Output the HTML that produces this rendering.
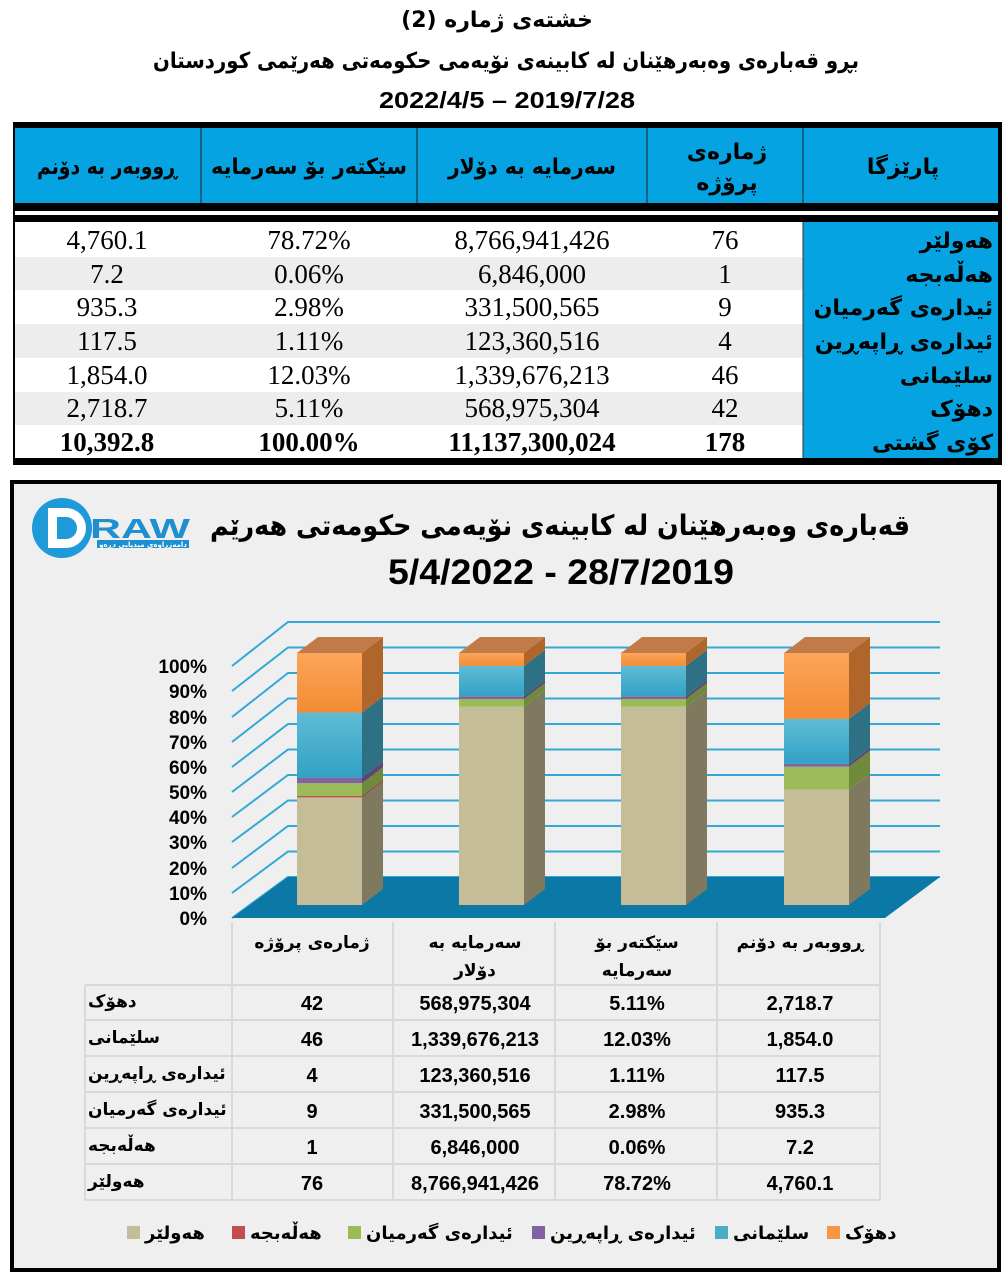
<!DOCTYPE html>
<html><head><meta charset="utf-8"><style>
html,body{margin:0;padding:0;background:#fff;}
svg{display:block;}
.ar{font-family:"DejaVu Sans",sans-serif;font-weight:bold;}
.sf{font-family:"Liberation Serif",serif;}
.sb{font-family:"Liberation Sans",sans-serif;font-weight:bold;}
</style></head><body>
<svg width="1007" height="1280" viewBox="0 0 1007 1280" xmlns="http://www.w3.org/2000/svg">
<defs>
<linearGradient id="gO" x1="0" y1="0" x2="0" y2="1"><stop offset="0" stop-color="#fca55a"/><stop offset="1" stop-color="#f38c33"/></linearGradient>
<linearGradient id="gB" x1="0" y1="0" x2="0" y2="1"><stop offset="0" stop-color="#5fbbd4"/><stop offset="1" stop-color="#32a2c6"/></linearGradient>
</defs>
<rect width="1007" height="1280" fill="#fff"/>
<text x="497" y="27" text-anchor="middle" class="ar" font-size="22">خشتەی ژمارە (2)</text>
<text x="506" y="68" text-anchor="middle" class="ar" font-size="22" textLength="706" lengthAdjust="spacingAndGlyphs">بڕو قەبارەی وەبەرهێنان لە کابینەی نۆیەمی حکومەتی هەرێمی کوردستان</text>
<text x="507" y="108" text-anchor="middle" class="sb" font-size="23" textLength="256" lengthAdjust="spacingAndGlyphs">2022/4/5 – 2019/7/28</text>
<rect x="13" y="122" width="989" height="343" fill="#000"/>
<rect x="15" y="128" width="983" height="75" fill="#05a3e1"/>
<rect x="15" y="211" width="983" height="4" fill="#fff"/>
<rect x="15" y="222" width="983" height="236" fill="#fff"/>
<rect x="15" y="257" width="788" height="33" fill="#ededed"/>
<rect x="15" y="324" width="788" height="34" fill="#ededed"/>
<rect x="15" y="392" width="788" height="33" fill="#ededed"/>
<rect x="803" y="222" width="195" height="236" fill="#05a3e1"/>
<line x1="803" y1="222" x2="803" y2="458" stroke="#333" stroke-width="1"/>
<g stroke="#222" stroke-width="1"><line x1="201" y1="128" x2="201" y2="203"/><line x1="417" y1="128" x2="417" y2="203"/><line x1="647" y1="128" x2="647" y2="203"/><line x1="803" y1="128" x2="803" y2="203"/></g>
<g class="ar" font-size="22" text-anchor="middle">
<text x="107" y="174" textLength="140" lengthAdjust="spacingAndGlyphs">ڕووبەر بە دۆنم</text>
<text x="309" y="174" textLength="196" lengthAdjust="spacingAndGlyphs">سێکتەر بۆ سەرمایە</text>
<text x="532" y="174" textLength="168" lengthAdjust="spacingAndGlyphs">سەرمایە بە دۆلار</text>
<text x="727" y="159">ژمارەی</text>
<text x="727" y="190">پرۆژە</text>
<text x="903" y="174">پارێزگا</text>
</g>
<g class="sf" font-size="27" text-anchor="middle">
<text x="107" y="249">4,760.1</text><text x="309" y="249">78.72%</text><text x="532" y="249">8,766,941,426</text><text x="725" y="249">76</text>
<text x="107" y="283">7.2</text><text x="309" y="283">0.06%</text><text x="532" y="283">6,846,000</text><text x="725" y="283">1</text>
<text x="107" y="316">935.3</text><text x="309" y="316">2.98%</text><text x="532" y="316">331,500,565</text><text x="725" y="316">9</text>
<text x="107" y="350">117.5</text><text x="309" y="350">1.11%</text><text x="532" y="350">123,360,516</text><text x="725" y="350">4</text>
<text x="107" y="384">1,854.0</text><text x="309" y="384">12.03%</text><text x="532" y="384">1,339,676,213</text><text x="725" y="384">46</text>
<text x="107" y="417">2,718.7</text><text x="309" y="417">5.11%</text><text x="532" y="417">568,975,304</text><text x="725" y="417">42</text>
<g font-weight="bold"><text x="107" y="451">10,392.8</text><text x="309" y="451">100.00%</text><text x="532" y="451">11,137,300,024</text><text x="725" y="451">178</text></g>
</g>
<g class="ar" font-size="22" text-anchor="end">
<text x="993" y="248">هەولێر</text>
<text x="993" y="282">هەڵەبجە</text>
<text x="993" y="315">ئیدارەی گەرمیان</text>
<text x="993" y="349">ئیدارەی ڕاپەڕین</text>
<text x="993" y="383">سلێمانی</text>
<text x="993" y="416">دهۆک</text>
<text x="993" y="450">کۆی گشتی</text>
</g>
<rect x="12" y="482" width="987" height="788" fill="#efefef" stroke="#000" stroke-width="4"/>
<circle cx="62" cy="528" r="30" fill="#1e9ad8"/>
<path d="M48 508 h18 a20 20 0 0 1 0 40 h-18 z" fill="#fff"/>
<path d="M57 517 h9 a11 11 0 0 1 0 22 h-9 z" fill="#1e9ad8"/>
<text x="90" y="538" font-family="Liberation Sans,sans-serif" font-weight="bold" font-size="28" fill="#1e8fd0" textLength="100" lengthAdjust="spacingAndGlyphs">RAW</text>
<rect x="97" y="540" width="92" height="8" fill="#1e8fd0"/>
<text x="143" y="547" text-anchor="middle" class="ar" font-size="7" fill="#fff">دامەزراوەی میدیایی دڕەو</text>
<text x="560" y="535" text-anchor="middle" class="ar" font-size="28" textLength="700" lengthAdjust="spacingAndGlyphs">قەبارەی وەبەرهێنان لە کابینەی نۆیەمی حکومەتی هەرێم</text>
<text x="561" y="584" text-anchor="middle" class="sb" font-size="35" textLength="346" lengthAdjust="spacingAndGlyphs">5/4/2022 - 28/7/2019</text>
<g stroke="#33a8d6" stroke-width="2" fill="none">
<polyline points="232,918 288,877 940,877"/><polyline points="232,893 288,851.5 940,851.5"/><polyline points="232,868 288,826 940,826"/><polyline points="232,842 288,800.5 940,800.5"/><polyline points="232,817 288,775 940,775"/><polyline points="232,792 288,749.5 940,749.5"/><polyline points="232,767 288,724 940,724"/><polyline points="232,742 288,698.5 940,698.5"/><polyline points="232,717 288,673 940,673"/><polyline points="232,691 288,647.5 940,647.5"/><polyline points="232,666 288,622 940,622"/>
</g>
<polygon points="232,918 288,877 940,877 885,918" fill="#0b78a5"/>
<g class="sb" font-size="19" text-anchor="end">
<text x="207" y="925">0%</text><text x="207" y="900">10%</text><text x="207" y="875">20%</text><text x="207" y="849">30%</text><text x="207" y="824">40%</text><text x="207" y="799">50%</text><text x="207" y="774">60%</text><text x="207" y="749">70%</text><text x="207" y="724">80%</text><text x="207" y="698">90%</text><text x="207" y="673">100%</text>
</g>
<g transform="translate(297,0)">
<rect x="0" y="797.4" width="65" height="107.6" fill="#c4bd97"/><polygon points="65,797.4 86,781.4 86,889 65,905" fill="#7f7a5f"/>
<rect x="0" y="796" width="65" height="1.4" fill="#c0504d"/><polygon points="65,796 86,780 86,781.4 65,797.4" fill="#8a3a38"/>
<rect x="0" y="783.2" width="65" height="12.8" fill="#9bbb59"/><polygon points="65,783.2 86,767.2 86,780 65,796" fill="#6f8a3c"/>
<rect x="0" y="777.6" width="65" height="5.6" fill="#8064a2"/><polygon points="65,777.6 86,761.6 86,767.2 65,783.2" fill="#5b4676"/>
<rect x="0" y="712.5" width="65" height="65.1" fill="url(#gB)"/><polygon points="65,712.5 86,696.5 86,761.6 65,777.6" fill="#2e7184"/>
<rect x="0" y="653" width="65" height="59.5" fill="url(#gO)"/><polygon points="65,653 86,637 86,696.5 65,712.5" fill="#b0662b"/>
<polygon points="0,653 21,637 86,637 65,653" fill="#c27b48"/>
</g>
<g transform="translate(459,0)">
<rect x="0" y="706.6" width="65" height="198.4" fill="#c4bd97"/><polygon points="65,706.6 86,690.6 86,889 65,905" fill="#7f7a5f"/>
<rect x="0" y="699" width="65" height="7.6" fill="#9bbb59"/><polygon points="65,699 86,683 86,690.6 65,706.6" fill="#6f8a3c"/>
<rect x="0" y="696.2" width="65" height="2.8" fill="#8064a2"/><polygon points="65,696.2 86,680.2 86,683 65,699" fill="#5b4676"/>
<rect x="0" y="665.9" width="65" height="30.3" fill="url(#gB)"/><polygon points="65,665.9 86,649.9 86,680.2 65,696.2" fill="#2e7184"/>
<rect x="0" y="653" width="65" height="12.9" fill="url(#gO)"/><polygon points="65,653 86,637 86,649.9 65,665.9" fill="#b0662b"/>
<polygon points="0,653 21,637 86,637 65,653" fill="#c27b48"/>
</g>
<g transform="translate(621,0)">
<rect x="0" y="706.6" width="65" height="198.4" fill="#c4bd97"/><polygon points="65,706.6 86,690.6 86,889 65,905" fill="#7f7a5f"/>
<rect x="0" y="699" width="65" height="7.6" fill="#9bbb59"/><polygon points="65,699 86,683 86,690.6 65,706.6" fill="#6f8a3c"/>
<rect x="0" y="696.2" width="65" height="2.8" fill="#8064a2"/><polygon points="65,696.2 86,680.2 86,683 65,699" fill="#5b4676"/>
<rect x="0" y="665.9" width="65" height="30.3" fill="url(#gB)"/><polygon points="65,665.9 86,649.9 86,680.2 65,696.2" fill="#2e7184"/>
<rect x="0" y="653" width="65" height="12.9" fill="url(#gO)"/><polygon points="65,653 86,637 86,649.9 65,665.9" fill="#b0662b"/>
<polygon points="0,653 21,637 86,637 65,653" fill="#c27b48"/>
</g>
<g transform="translate(784,0)">
<rect x="0" y="789.6" width="65" height="115.4" fill="#c4bd97"/><polygon points="65,789.6 86,773.6 86,889 65,905" fill="#7f7a5f"/>
<rect x="0" y="766.7" width="65" height="22.9" fill="#9bbb59"/><polygon points="65,766.7 86,750.7 86,773.6 65,789.6" fill="#6f8a3c"/>
<rect x="0" y="763.9" width="65" height="2.8" fill="#8064a2"/><polygon points="65,763.9 86,747.9 86,750.7 65,766.7" fill="#5b4676"/>
<rect x="0" y="718.9" width="65" height="45" fill="url(#gB)"/><polygon points="65,718.9 86,702.9 86,747.9 65,763.9" fill="#2e7184"/>
<rect x="0" y="653" width="65" height="65.9" fill="url(#gO)"/><polygon points="65,653 86,637 86,702.9 65,718.9" fill="#b0662b"/>
<polygon points="0,653 21,637 86,637 65,653" fill="#c27b48"/>
</g>
<g stroke="#d9d9d9" stroke-width="2" fill="none">
<line x1="232" y1="922" x2="232" y2="1200"/><line x1="393" y1="922" x2="393" y2="1200"/><line x1="555" y1="922" x2="555" y2="1200"/><line x1="717" y1="922" x2="717" y2="1200"/><line x1="880" y1="922" x2="880" y2="1200"/>
<line x1="85" y1="985" x2="85" y2="1200"/>
<line x1="85" y1="985" x2="880" y2="985"/><line x1="85" y1="1020" x2="880" y2="1020"/><line x1="85" y1="1056" x2="880" y2="1056"/><line x1="85" y1="1092" x2="880" y2="1092"/><line x1="85" y1="1128" x2="880" y2="1128"/><line x1="85" y1="1164" x2="880" y2="1164"/><line x1="85" y1="1200" x2="880" y2="1200"/>
</g>
<g class="ar" font-size="17" text-anchor="middle" font-weight="normal">
<text x="312" y="948">ژمارەی پرۆژە</text>
<text x="475" y="948">سەرمایە بە</text><text x="475" y="976">دۆلار</text>
<text x="637" y="948">سێکتەر بۆ</text><text x="637" y="976">سەرمایە</text>
<text x="800" y="948">ڕووبەر بە دۆنم</text>
</g>
<g class="ar" font-size="17" text-anchor="start">
<text x="88" y="1007">دهۆک</text>
<text x="88" y="1043">سلێمانی</text>
<text x="88" y="1079">ئیدارەی ڕاپەڕین</text>
<text x="88" y="1115">ئیدارەی گەرمیان</text>
<text x="88" y="1151">هەڵەبجە</text>
<text x="88" y="1187">هەولێر</text>
</g>
<g class="sb" font-size="20" text-anchor="middle">
<text x="312" y="1010">42</text><text x="475" y="1010">568,975,304</text><text x="637" y="1010">5.11%</text><text x="800" y="1010">2,718.7</text>
<text x="312" y="1046">46</text><text x="475" y="1046">1,339,676,213</text><text x="637" y="1046">12.03%</text><text x="800" y="1046">1,854.0</text>
<text x="312" y="1082">4</text><text x="475" y="1082">123,360,516</text><text x="637" y="1082">1.11%</text><text x="800" y="1082">117.5</text>
<text x="312" y="1118">9</text><text x="475" y="1118">331,500,565</text><text x="637" y="1118">2.98%</text><text x="800" y="1118">935.3</text>
<text x="312" y="1154">1</text><text x="475" y="1154">6,846,000</text><text x="637" y="1154">0.06%</text><text x="800" y="1154">7.2</text>
<text x="312" y="1190">76</text><text x="475" y="1190">8,766,941,426</text><text x="637" y="1190">78.72%</text><text x="800" y="1190">4,760.1</text>
</g>
<rect x="127" y="1226" width="13" height="13" fill="#c4bd97"/>
<rect x="232" y="1226" width="13" height="13" fill="#c0504d"/>
<rect x="348" y="1226" width="13" height="13" fill="#9bbb59"/>
<rect x="532" y="1226" width="13" height="13" fill="#8064a2"/>
<rect x="715" y="1226" width="13" height="13" fill="#4bacc6"/>
<rect x="827" y="1226" width="13" height="13" fill="#f79646"/>
<g class="ar" font-size="18" text-anchor="start">
<text x="145" y="1239">هەولێر</text>
<text x="250" y="1239">هەڵەبجە</text>
<text x="366" y="1239">ئیدارەی گەرمیان</text>
<text x="550" y="1239">ئیدارەی ڕاپەڕین</text>
<text x="733" y="1239">سلێمانی</text>
<text x="845" y="1239">دهۆک</text>
</g>
</svg>
</body></html>
